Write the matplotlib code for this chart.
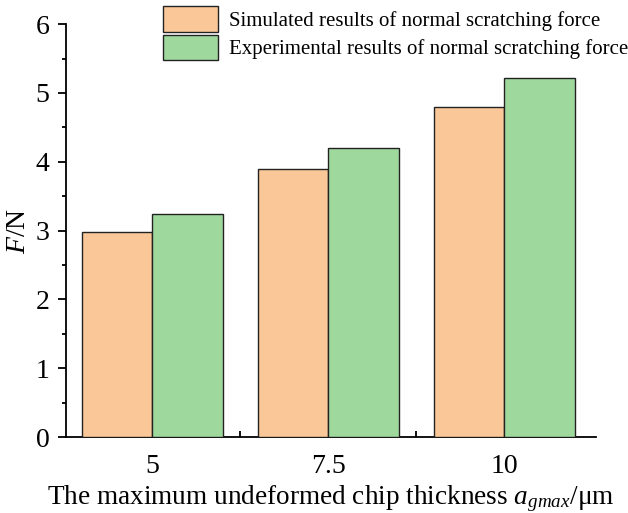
import matplotlib.pyplot as plt
import numpy as np
from matplotlib.ticker import MultipleLocator, FixedLocator

plt.rcParams['font.family'] = ['Liberation Serif', 'DejaVu Serif']
plt.rcParams['mathtext.fontset'] = 'custom'
plt.rcParams['mathtext.rm'] = 'Liberation Serif'
plt.rcParams['mathtext.it'] = 'Liberation Serif:italic'

# Data
thickness = ['5', '7.5', '10']
simulated = [2.98, 3.90, 4.80]
experimental = [3.24, 4.20, 5.22]
labels = ['Simulated results of normal scratching force',
          'Experimental results of normal scratching force']

fig = plt.figure(figsize=(6.28, 5.13), dpi=100)
ax = fig.add_axes([0.105, 0.148, 0.844, 0.805])

x = np.arange(len(thickness))
w = 0.4
ax.bar(x - w/2, simulated, w, color='#FAC898', edgecolor='#222222', linewidth=1.0,
       label=labels[0], zorder=3)
ax.bar(x + w/2, experimental, w, color='#9FD89D', edgecolor='#222222', linewidth=1.0,
       label=labels[1], zorder=3)

ax.set_xlim(-0.49, 2.52)
ax.set_ylim(0, 6)
ax.spines['top'].set_visible(False)
ax.spines['right'].set_visible(False)
ax.spines['left'].set_linewidth(1.3)
ax.spines['bottom'].set_linewidth(1.3)

ax.set_xticks(x)
ax.set_xticklabels(thickness, fontsize=20)
ax.xaxis.set_minor_locator(FixedLocator([0.5, 1.5]))
ax.tick_params(axis='x', which='major', direction='in', length=0, pad=12)
ax.tick_params(axis='x', which='minor', direction='in', length=4, width=1.3)

ax.yaxis.set_major_locator(MultipleLocator(1))
ax.yaxis.set_minor_locator(MultipleLocator(0.5))
ax.tick_params(axis='y', which='major', direction='out', length=6, width=1.3, labelsize=20, pad=6)
ax.tick_params(axis='y', which='minor', direction='out', length=3, width=1.3)

ax.set_ylabel(r'$\mathit{F}$/N', fontsize=20, labelpad=3)
ax.set_xlabel(r'The maximum undeformed chip thickness $\mathit{a}_{\mathit{gmax}}$/μm', fontsize=19.6, labelpad=3)

fig.legend(loc='upper left', bbox_to_anchor=(0.25, 1.0), frameon=False, fontsize=15,
           handlelength=2.65, handleheight=1.5, labelspacing=0.15, handletextpad=0.5,
           borderaxespad=0, borderpad=0.3)

plt.savefig('out.png', dpi=100)
